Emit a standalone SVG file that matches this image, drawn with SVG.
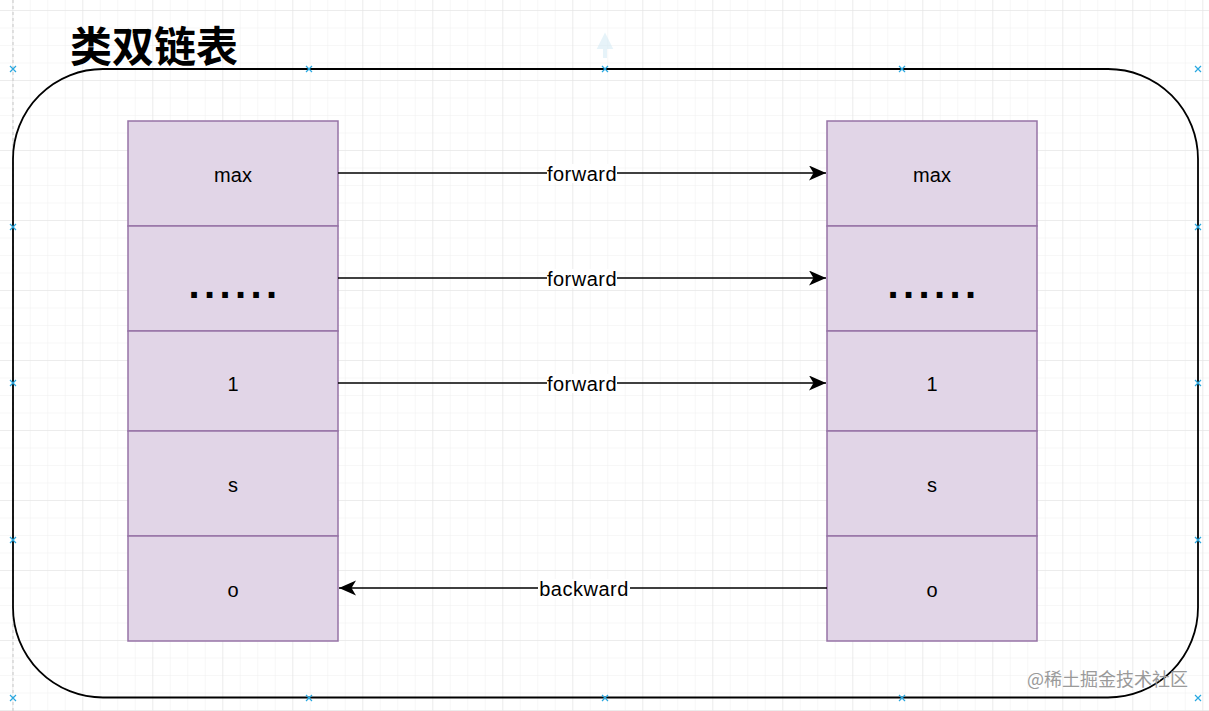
<svg xmlns="http://www.w3.org/2000/svg" width="1209" height="711" viewBox="0 0 1209 711">
  <style>
    .cell { fill: #e1d5e7; stroke: #9673a6; stroke-width: 1.5; }
    .lbl { font-family: "Liberation Sans", Arial, sans-serif; font-size: 20px; fill: #000; text-anchor: middle; }
    .dots { font-family: "Liberation Sans", Arial, sans-serif; font-size: 40px; font-weight: bold; fill: #000; text-anchor: middle; letter-spacing: 4.4px; }
    .edge { stroke: #000; stroke-width: 1.6; fill: none; }
    .elbl { font-family: "Liberation Sans", Arial, sans-serif; font-size: 20px; fill: #000; text-anchor: middle; letter-spacing: 0.5px; }
    .lblbg { fill: #fff; }
    .hdl { stroke: #29a8e0; stroke-width: 1.2; fill: none; }
  </style>
  <defs>
    <pattern id="gminor" patternUnits="userSpaceOnUse" x="12.3" y="10" width="17.5" height="17.5">
      <path d="M0 0 H17.5 M0 0 V17.5" stroke="#f0f0f0" stroke-width="1" fill="none"/>
    </pattern>
    <pattern id="gmajor" patternUnits="userSpaceOnUse" x="12.3" y="10" width="70" height="70">
      <path d="M0 0 H70 M0 0 V70" stroke="#e2e2e2" stroke-width="1" fill="none"/>
    </pattern>
    <marker id="arr" markerUnits="userSpaceOnUse" markerWidth="18" markerHeight="16" refX="17" refY="7.5" orient="auto">
      <path d="M0 0 L17 7.5 L0 15 L4.5 7.5 Z" fill="#000"/>
    </marker>
    <path id="hx" d="M-3 -3 L3 3 M-3 3 L3 -3"/>
  </defs>

  <rect width="1209" height="711" fill="#fff"/>
  <rect width="1209" height="711" fill="url(#gminor)"/>
  <rect width="1209" height="711" fill="url(#gmajor)"/>
  <line x1="13" y1="0" x2="13" y2="711" stroke="#c8c8c8" stroke-width="1" stroke-dasharray="3 3"/>

  <!-- faint hover arrow -->
  <path d="M605 58 V46 M600 47 L605 37 L610 47 Z" stroke="#cfe9f5" stroke-width="4" fill="#cfe9f5" opacity="0.5"/>

  <g id="container">
    <rect x="13" y="69" width="1185" height="628.5" rx="90" ry="90" fill="none" stroke="#000" stroke-width="1.8"/>
  </g>

  <g id="title">
    <text x="70" y="62" font-family="'Noto Sans CJK SC', sans-serif" font-size="42" font-weight="bold" fill="#000">类双链表</text>
  </g>

  <g id="left-max"><rect class="cell" x="128" y="121" width="210" height="105"/><text class="lbl" x="233" y="182">max</text></g>
  <g id="left-dots"><rect class="cell" x="128" y="226" width="210" height="105"/><text class="dots" x="235" y="298">......</text></g>
  <g id="left-1"><rect class="cell" x="128" y="331" width="210" height="100"/><text class="lbl" x="233" y="391">1</text></g>
  <g id="left-s"><rect class="cell" x="128" y="431" width="210" height="105"/><text class="lbl" x="233" y="492">s</text></g>
  <g id="left-o"><rect class="cell" x="128" y="536" width="210" height="105"/><text class="lbl" x="233" y="597">o</text></g>

  <g id="right-max"><rect class="cell" x="827" y="121" width="210" height="105"/><text class="lbl" x="932" y="182">max</text></g>
  <g id="right-dots"><rect class="cell" x="827" y="226" width="210" height="105"/><text class="dots" x="934" y="298">......</text></g>
  <g id="right-1"><rect class="cell" x="827" y="331" width="210" height="100"/><text class="lbl" x="932" y="391">1</text></g>
  <g id="right-s"><rect class="cell" x="827" y="431" width="210" height="105"/><text class="lbl" x="932" y="492">s</text></g>
  <g id="right-o"><rect class="cell" x="827" y="536" width="210" height="105"/><text class="lbl" x="932" y="597">o</text></g>

  <g id="connectors">
    <line class="edge" x1="338" y1="173" x2="826" y2="173" marker-end="url(#arr)"/>
    <rect class="lblbg" x="547" y="164" width="70" height="19"/>
    <text class="elbl" x="582" y="181">forward</text>

    <line class="edge" x1="338" y1="278" x2="826" y2="278" marker-end="url(#arr)"/>
    <rect class="lblbg" x="547" y="269" width="70" height="19"/>
    <text class="elbl" x="582" y="286">forward</text>

    <line class="edge" x1="338" y1="383" x2="826" y2="383" marker-end="url(#arr)"/>
    <rect class="lblbg" x="547" y="374" width="70" height="19"/>
    <text class="elbl" x="582" y="391">forward</text>

    <line class="edge" x1="827" y1="588" x2="339" y2="588" marker-end="url(#arr)"/>
    <rect class="lblbg" x="538" y="579" width="92" height="19"/>
    <text class="elbl" x="584" y="596">backward</text>
  </g>

  <g id="handles" class="hdl">
    <use href="#hx" x="13" y="69"/><use href="#hx" x="309" y="69"/><use href="#hx" x="605" y="69"/><use href="#hx" x="902" y="69"/><use href="#hx" x="1198" y="69"/>
    <use href="#hx" x="13" y="227"/><use href="#hx" x="13" y="383"/><use href="#hx" x="13" y="540"/>
    <use href="#hx" x="1198" y="227"/><use href="#hx" x="1198" y="383"/><use href="#hx" x="1198" y="540"/>
    <use href="#hx" x="13" y="698"/><use href="#hx" x="309" y="698"/><use href="#hx" x="605" y="698"/><use href="#hx" x="902" y="698"/><use href="#hx" x="1198" y="698"/>
  </g>

  <g id="watermark">
    <text x="1188" y="686" text-anchor="end" font-family="'Noto Sans CJK SC', sans-serif" font-size="18" fill="#9a9a9a">@稀土掘金技术社区</text>
  </g>
</svg>
